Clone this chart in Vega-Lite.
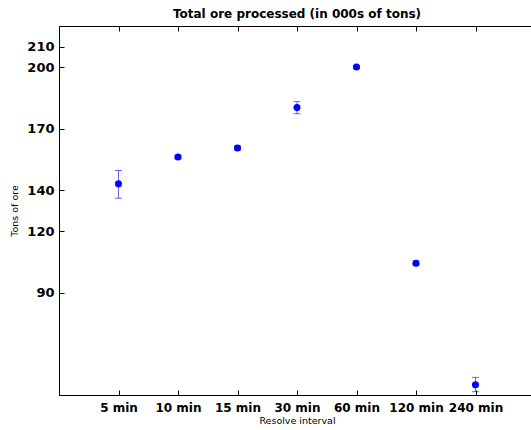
{
  "$schema": "https://vega.github.io/schema/vega-lite/v6.json",
  "autosize": {"type": "none"},
  "padding": {"left": 59, "top": 26, "right": 0, "bottom": 35},
  "width": 476,
  "height": 369,
  "background": "white",
  "title": {
    "text": "Total ore processed (in 000s of tons)",
    "font": "DejaVu Sans",
    "fontSize": 12,
    "fontWeight": "bold",
    "color": "black",
    "anchor": "middle",
    "offset": 5
  },
  "config": {
    "view": {"stroke": "black", "strokeWidth": 1},
    "axis": {
      "domainColor": "black",
      "tickColor": "black",
      "labelFont": "DejaVu Sans",
      "labelFontWeight": "bold",
      "labelFontSize": 13,
      "labelColor": "black",
      "titleFont": "DejaVu Sans",
      "titleFontWeight": "normal",
      "titleFontSize": 9.5,
      "titleColor": "black",
      "grid": false
    }
  },
  "data": {
    "values": [
      {"interval": "5 min", "tons": 143, "lower": 136, "upper": 149.5},
      {"interval": "10 min", "tons": 156.1, "lower": 155.3, "upper": 156.9},
      {"interval": "15 min", "tons": 160.5, "lower": 159.5, "upper": 161.5},
      {"interval": "30 min", "tons": 180.2, "lower": 177.2, "upper": 183.1},
      {"interval": "60 min", "tons": 200, "lower": 199.4, "upper": 200.6},
      {"interval": "120 min", "tons": 104.3, "lower": 103.2, "upper": 105.4},
      {"interval": "240 min", "tons": 45, "lower": 41.6, "upper": 48.6}
    ]
  },
  "resolve": {"axis": {"x": "independent"}},
  "layer": [
    {
      "mark": {"type": "rule", "color": "#0000ff", "opacity": 0.6, "strokeWidth": 1},
      "encoding": {
        "x": {
          "field": "interval", "type": "ordinal",
          "sort": ["5 min", "10 min", "15 min", "30 min", "60 min", "120 min", "240 min"],
          "scale": {"type": "point", "padding": 1},
          "axis": {"orient": "top", "labels": false, "title": null, "domain": false, "tickSize": -5}
        },
        "y": {
          "field": "lower", "type": "quantitative",
          "scale": {"domain": [40, 220], "nice": false, "zero": false},
          "axis": {
            "title": "Tons of ore",
            "values": [90, 120, 140, 170, 200, 210],
            "tickSize": -5,
            "labelPadding": 10,
            "titlePadding": 7
          }
        },
        "y2": {"field": "upper"}
      }
    },
    {
      "mark": {"type": "tick", "color": "#0000ff", "opacity": 0.6, "size": 7, "thickness": 1, "orient": "horizontal"},
      "encoding": {
        "x": {"field": "interval", "type": "ordinal", "sort": ["5 min", "10 min", "15 min", "30 min", "60 min", "120 min", "240 min"], "axis": null},
        "y": {"field": "lower", "type": "quantitative"}
      }
    },
    {
      "mark": {"type": "tick", "color": "#0000ff", "opacity": 0.6, "size": 7, "thickness": 1, "orient": "horizontal"},
      "encoding": {
        "x": {"field": "interval", "type": "ordinal", "sort": ["5 min", "10 min", "15 min", "30 min", "60 min", "120 min", "240 min"], "axis": null},
        "y": {"field": "upper", "type": "quantitative"}
      }
    },
    {
      "mark": {"type": "point", "filled": true, "color": "#0000ff", "opacity": 1, "size": 50},
      "encoding": {
        "x": {
          "field": "interval", "type": "ordinal",
          "sort": ["5 min", "10 min", "15 min", "30 min", "60 min", "120 min", "240 min"],
          "axis": {"orient": "bottom", "title": "Resolve interval", "labelAngle": 0, "labelFontSize": 12, "tickSize": -5, "labelPadding": 12, "titlePadding": 2}
        },
        "y": {"field": "tons", "type": "quantitative"}
      }
    }
  ]
}
